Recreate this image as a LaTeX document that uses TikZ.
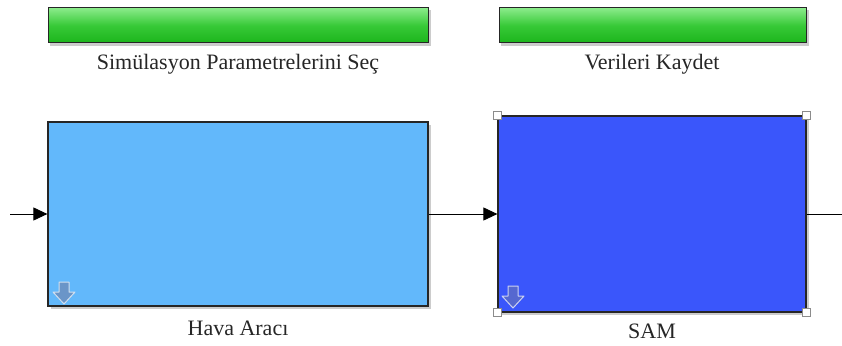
\documentclass[tikz,border=0pt]{standalone}
\usepackage{fontspec}
\setmainfont{Liberation Serif}
\usetikzlibrary{arrows.meta}
\definecolor{lblue}{HTML}{62B8FB}
\definecolor{dblue}{HTML}{3A56FB}
\definecolor{gtop}{HTML}{8AEB8A}
\definecolor{gbot}{HTML}{1CB51C}
\definecolor{icona}{HTML}{6A95C8}
\definecolor{iconb}{HTML}{5668D0}
\tikzset{
  bar/.style={draw=black!85, line width=1pt, top color=gtop, bottom color=gbot, middle color=green!70!black!60!gtop},
  blk/.style={draw=black!85, line width=1.2pt},
  lbl/.style={font=\fontsize{22}{24}\selectfont, text=black!85},
  conn/.style={line width=0.9pt, -{Triangle[length=14pt,width=13pt]}},
  handle/.style={draw=black!45, fill=white, line width=1pt, minimum size=8pt, inner sep=0pt},
  icon/.style={fill=#1, draw=white!70!#1, line width=1pt, line join=round}
}
\begin{document}
\begin{tikzpicture}[x=1pt,y=-1pt]
\useasboundingbox (0,0) rectangle (842,345);
% green bars
\fill[black!20] (50,10) rectangle (431,46);
\fill[black!20] (501,10) rectangle (809,46);
\node[bar, minimum width=380pt, minimum height=35pt, inner sep=0pt] (b1) at (238,25.5) {};
\node[bar, minimum width=307pt, minimum height=35pt, inner sep=0pt] (b2) at (652.5,25.5) {};
\node[lbl] (t1) at (238,64) {Simülasyon Parametrelerini Seç};
\node[lbl] (t2) at (652,64) {Verileri Kaydet};
% shadows
\fill[black!20] (51,125) rectangle (431,309);
\fill[black!20] (501,119) rectangle (809,315);
% blocks
\node[blk, fill=lblue, minimum width=380pt, minimum height=184pt, inner sep=0pt] (ha) at (238,214) {};
\node[blk, fill=dblue, minimum width=308pt, minimum height=196pt, inner sep=0pt] (sam) at (652,214) {};
\node[lbl] (t3) at (238,328) {Hava Aracı};
\node[lbl] (t4) at (652,331) {SAM};
% icons
\filldraw[icon=icona] (59,282) -- (69,282) -- (69,292) -- (75,292) -- (64,304) -- (53,292) -- (59,292) -- cycle;
\filldraw[icon=iconb] (508,286) -- (518,286) -- (518,296) -- (524,296) -- (513,308) -- (502,296) -- (508,296) -- cycle;
% connectors
\coordinate (in) at (10,214);
\coordinate (out) at (842,214);
\draw[conn] (in) -- (ha.west);
\draw[conn] (ha.east) -- (sam.west);
\draw[line width=0.9pt] (sam.east) -- (out);
% selection handles
\foreach \c in {north west, north east, south west, south east}
  \node[handle] at (sam.\c) {};
\end{tikzpicture}
\end{document}
